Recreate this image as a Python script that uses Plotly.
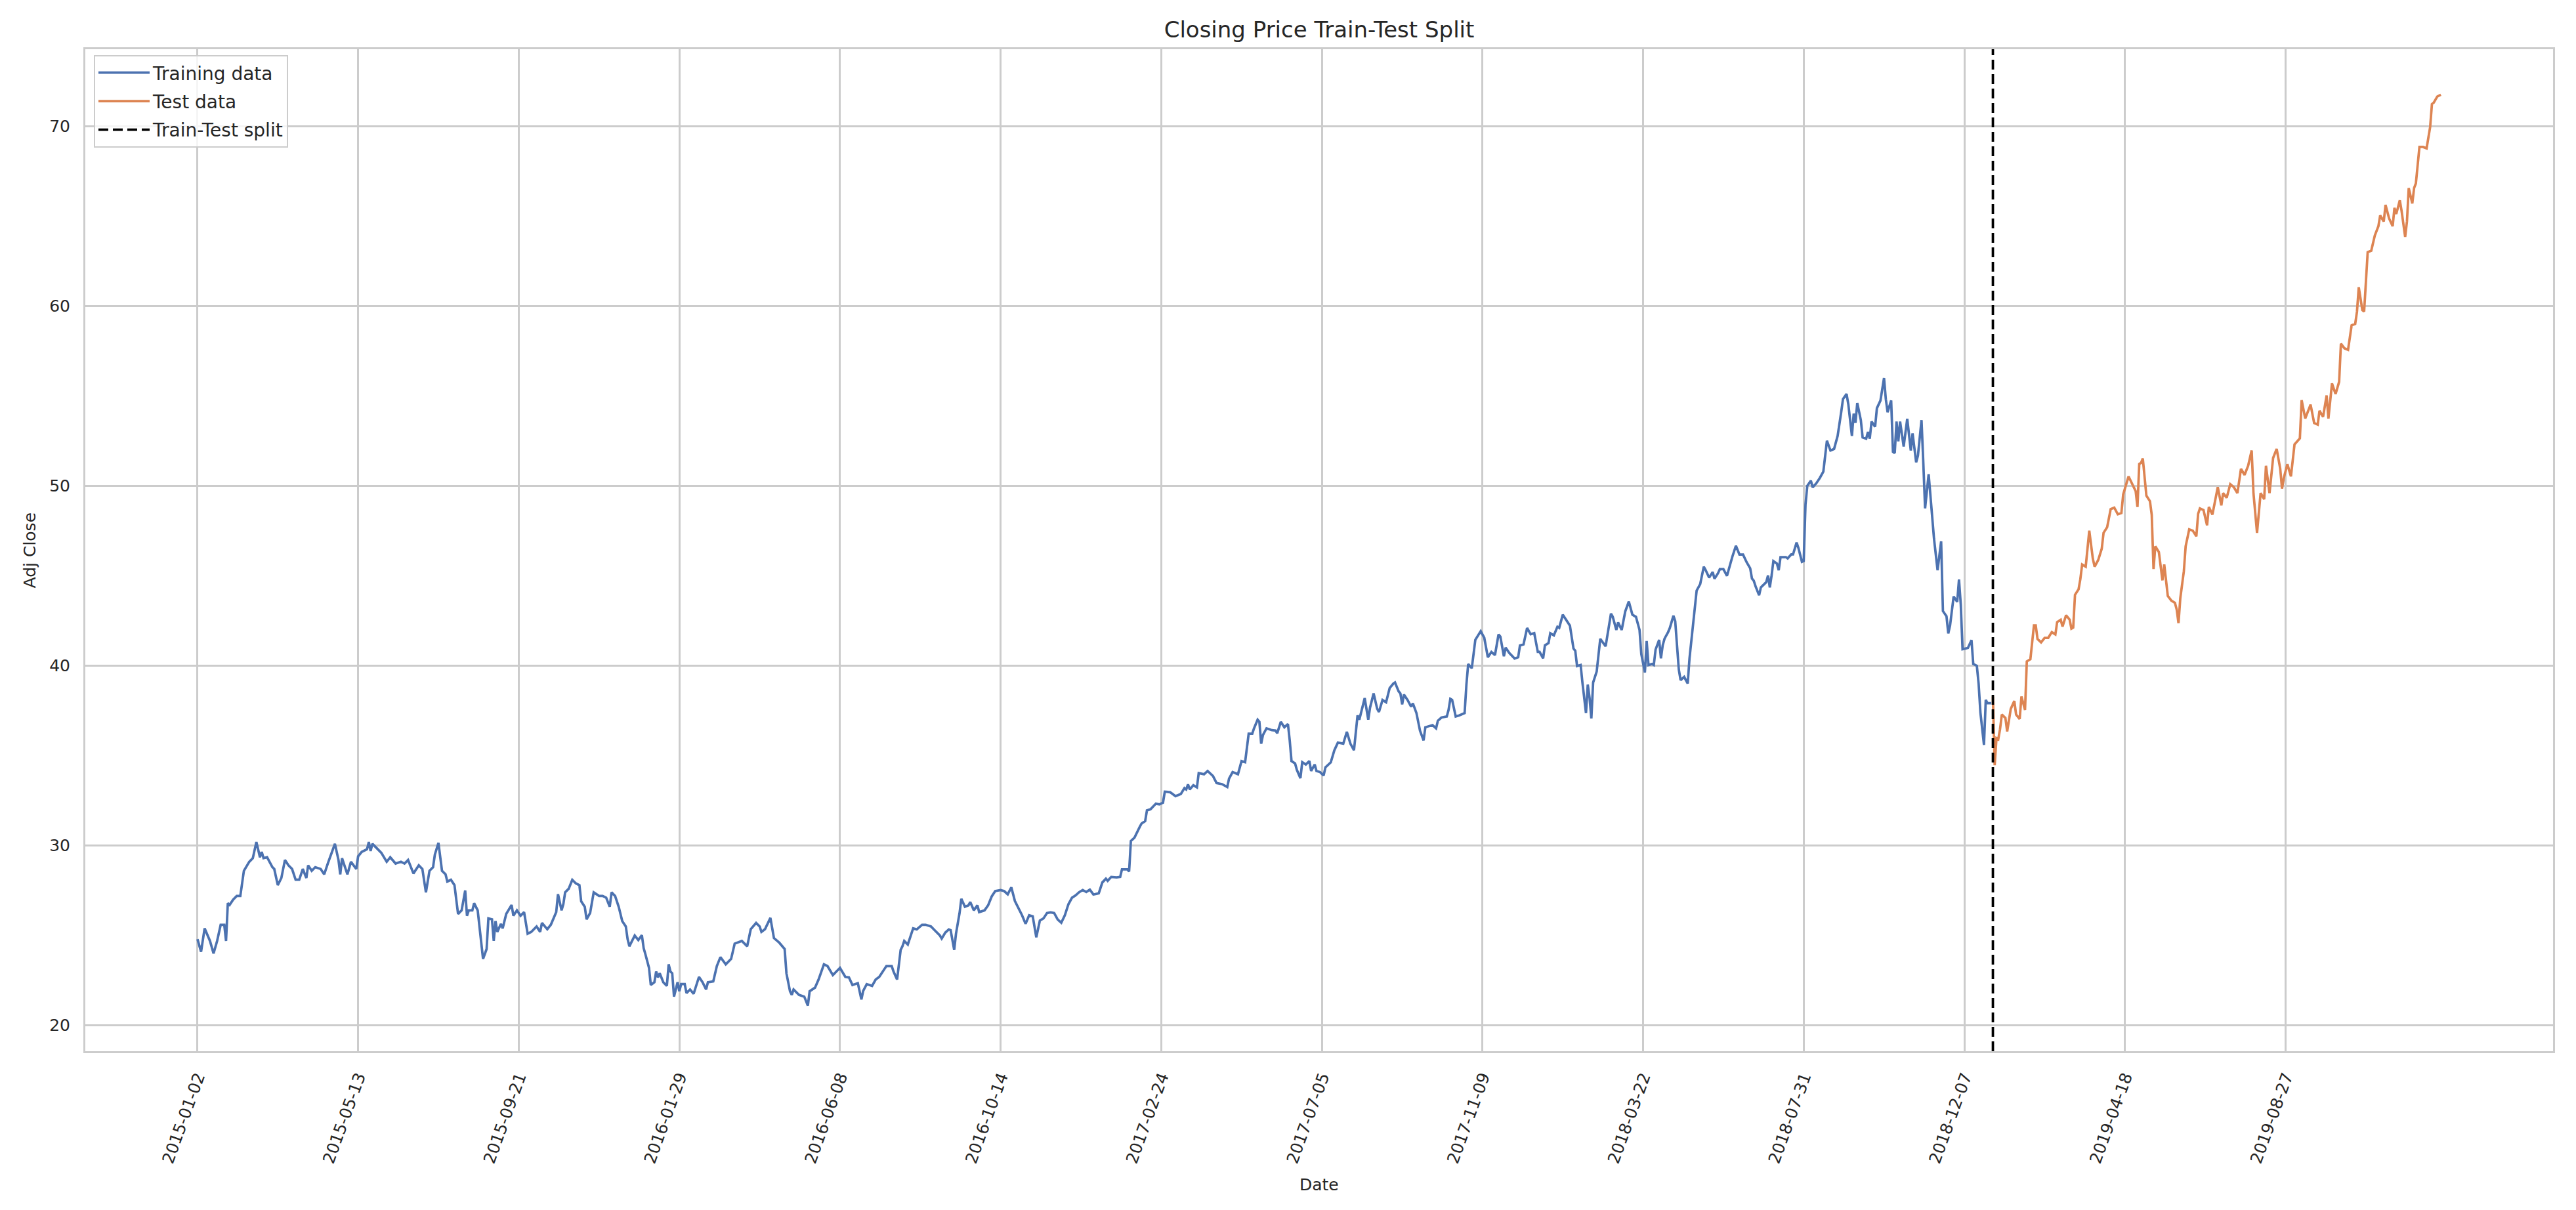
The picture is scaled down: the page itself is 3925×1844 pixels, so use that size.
import plotly.graph_objects as go

# ---- data (trading-day index, adjusted close) ----
train_day = [0, 2, 4, 6, 7, 9, 11, 13, 15, 16, 17, 18, 20, 22, 24, 26, 29, 31, 33, 35,
             36, 37, 39, 42, 43, 45, 47, 49, 51, 53, 55, 57, 59, 61, 62, 64, 66, 69, 71, 73,
             75, 77, 79, 80, 81, 84, 86, 89, 90, 92, 95, 96, 97, 98, 101, 103, 106, 108, 111, 114,
             116, 118, 121, 124, 126, 128, 130, 132, 133, 135, 137, 139, 140, 142, 144, 145, 146, 148, 150, 151,
             152, 154, 155, 157, 158, 160, 162, 163, 165, 166, 167, 168, 170, 171, 173, 176, 177, 179, 181, 183,
             185, 187, 190, 192, 193, 196, 198, 200, 201, 202, 204, 205, 206, 208, 210, 212, 214, 215, 217, 218,
             220, 222, 225, 227, 229, 231, 232, 234, 236, 238, 240, 241, 242, 245, 247, 249, 250, 251, 253, 254,
             256, 257, 258, 259, 261, 263, 264, 265, 266, 267, 269, 270, 271, 273, 274, 276, 278, 281, 283, 285,
             286, 289, 291, 293, 296, 299, 301, 305, 308, 310, 313, 315, 316, 318, 321, 323, 326, 329, 330, 332,
             333, 334, 337, 340, 342, 343, 346, 348, 351, 353, 356, 358, 360, 363, 365, 367, 370, 372, 373, 375,
             378, 380, 382, 384, 386, 389, 390, 392, 394, 395, 396, 398, 399, 401, 403, 406, 408, 411, 413, 416,
             417, 419, 421, 422, 424, 425, 427, 428, 430, 432, 433, 435, 437, 438, 441, 443, 445, 447, 450, 452,
             454, 456, 458, 460, 462, 464, 466, 468, 469, 470, 472, 474, 476, 478, 480, 482, 484, 486, 488, 490,
             492, 494, 496, 498, 500, 502, 505, 507, 509, 510, 512, 515, 517, 518, 521, 522, 523, 525, 528, 529,
             531, 532, 534, 537, 539, 541, 542, 545, 548, 551, 553, 554, 555, 556, 558, 560, 561, 564, 566, 569,
             571, 574, 577, 578, 580, 583, 585, 587, 589, 591, 592, 594, 595, 596, 597, 599, 602, 604, 605, 607,
             609, 611, 612, 613, 615, 616, 618, 619, 621, 623, 624, 626, 627, 629, 631, 632, 635, 637, 639, 642,
             644, 646, 648, 650, 651, 653, 654, 656, 657, 659, 661, 662, 664, 666, 668, 670, 671, 673, 674, 675,
             676, 678, 680, 681, 683, 685, 687, 688, 690, 692, 694, 695, 697, 700, 701, 702, 703, 705, 707, 710,
             711, 712, 714, 715, 716, 719, 721, 723, 725, 727, 729, 730, 732, 733, 735, 738, 740, 741, 743, 745,
             747, 749, 751, 752, 754, 755, 757, 758, 760, 762, 763, 765, 767, 769, 771, 772, 773, 775, 776, 778,
             779, 780, 781, 782, 784, 786, 789, 790, 792, 793, 795, 796, 798, 800, 802, 804, 806, 808, 809, 811,
             812, 813, 815, 816, 817, 819, 820, 821, 822, 824, 825, 827, 828, 830, 831, 833, 835, 836, 838, 840,
             842, 844, 845, 847, 849, 850, 852, 853, 855, 857, 860, 862, 864, 866, 868, 870, 871, 872, 873, 875,
             876, 879, 880, 881, 882, 883, 885, 886, 887, 890, 891, 893, 894, 896, 897, 899, 900, 901, 902, 904,
             905, 907, 909, 911, 913, 915, 917, 919, 921, 922, 924, 925, 926, 927, 928, 929, 930, 932, 933, 935,
             936, 937, 938, 940, 941, 943, 945, 946, 947, 949, 950, 951, 952, 953, 954, 956, 958, 960, 961, 963,
             964, 966, 967, 968, 970, 971, 973, 975, 976, 977, 978, 980, 981, 982, 984, 986, 987, 988, 989, 992,
             994, 995, 997, 998, 999, 1001, 1002, 1003, 1005]
train_close = [24.8, 24.1, 25.4, 24.9, 24.7, 24.0, 24.7, 25.6, 25.6, 24.7, 26.8, 26.7, 27.0, 27.2, 27.2, 28.6, 29.1, 29.3, 30.2, 29.35,
               29.65, 29.3, 29.35, 28.8, 28.7, 27.8, 28.2, 29.2, 28.9, 28.7, 28.1, 28.1, 28.7, 28.2, 28.9, 28.6, 28.8, 28.7, 28.4, 29.0,
               29.6, 30.1, 29.2, 28.4, 29.3, 28.4, 29.1, 28.7, 29.4, 29.65, 29.8, 30.2, 29.7, 30.1, 29.8, 29.6, 29.1, 29.35, 29.0, 29.1,
               29.0, 29.2, 28.45, 28.9, 28.7, 27.4, 28.6, 28.8, 29.5, 30.15, 28.6, 28.4, 28.0, 28.1, 27.8, 27.05, 26.2, 26.4, 27.5, 26.1,
               26.4, 26.4, 26.8, 26.4, 25.5, 23.7, 24.25, 25.95, 25.9, 24.7, 25.8, 25.2, 25.65, 25.4, 26.2, 26.7, 26.1, 26.4, 26.1, 26.3,
               25.1, 25.2, 25.5, 25.2, 25.7, 25.35, 25.6, 26.1, 26.3, 27.3, 26.4, 26.75, 27.4, 27.6, 28.1, 27.9, 27.8, 26.9, 26.6, 25.9,
               26.25, 27.4, 27.2, 27.2, 27.1, 26.6, 27.4, 27.2, 26.6, 25.8, 25.5, 24.8, 24.4, 25.0, 24.75, 25.02, 24.3, 23.95, 23.2, 22.25,
               22.4, 23.0, 22.67, 22.9, 22.4, 22.2, 23.4, 23.0, 22.9, 21.6, 22.4, 21.9, 22.3, 22.3, 21.8, 22.0, 21.76, 22.7, 22.4, 22.0,
               22.4, 22.45, 23.3, 23.8, 23.4, 23.7, 24.55, 24.7, 24.4, 25.35, 25.7, 25.5, 25.2, 25.35, 25.98, 24.86, 24.6, 24.25, 22.9, 21.9,
               21.7, 22.0, 21.7, 21.6, 21.1, 21.9, 22.1, 22.55, 23.4, 23.3, 22.8, 23.0, 23.2, 22.7, 22.67, 22.25, 22.35, 21.45, 21.92, 22.3,
               22.2, 22.55, 22.7, 23.0, 23.3, 23.3, 23.0, 22.55, 24.2, 24.4, 24.7, 24.5, 24.8, 25.4, 25.34, 25.6, 25.6, 25.5, 25.3, 25.0,
               24.83, 25.16, 25.34, 25.3, 24.2, 25.1, 26.25, 27.04, 26.6, 26.68, 26.86, 26.4, 26.68, 26.3, 26.4, 26.68, 27.17, 27.47, 27.53, 27.47,
               27.29, 27.68, 26.92, 26.56, 26.13, 25.65, 26.13, 26.07, 25.46, 24.9, 25.83, 25.95, 26.25, 26.29, 26.25, 25.89, 25.71, 26.13, 26.74, 27.1,
               27.23, 27.41, 27.53, 27.42, 27.55, 27.28, 27.35, 27.95, 28.16, 28.04, 28.26, 28.23, 28.26, 28.68, 28.68, 28.56, 30.26, 30.44, 31.05, 31.23,
               31.36, 31.96, 32.02, 32.33, 32.29, 32.39, 33.0, 32.97, 32.75, 32.87, 33.2, 33.12, 33.4, 33.12, 33.36, 33.24, 34.03, 33.97, 34.15, 33.87,
               33.48, 33.42, 33.26, 33.72, 34.09, 33.97, 34.7, 34.64, 36.22, 36.22, 36.52, 37.0, 36.88, 35.67, 36.15, 36.52, 36.42, 36.4, 36.25, 36.88,
               36.58, 36.76, 35.85, 34.7, 34.57, 34.21, 33.75, 34.64, 34.51, 34.7, 34.15, 34.51, 34.15, 34.09, 33.9, 34.35, 34.63, 35.3, 35.73, 35.67,
               36.33, 35.67, 35.3, 37.24, 37.0, 37.73, 38.2, 37.0, 37.67, 38.46, 37.61, 37.43, 38.1, 37.97, 38.76, 39.0, 39.07, 38.58, 38.46, 37.85,
               38.4, 38.1, 37.73, 37.91, 37.37, 36.39, 35.85, 36.58, 36.64, 36.7, 36.52, 36.94, 37.12, 37.18, 37.55, 38.16, 38.1, 37.18, 37.24, 37.37,
               38.95, 40.1, 39.86, 40.59, 41.44, 41.92, 41.56, 40.47, 40.77, 40.59, 41.74, 41.62, 40.53, 41.01, 40.71, 40.4, 40.47, 41.13, 41.19, 42.1,
               41.75, 41.81, 40.77, 40.77, 40.41, 41.14, 41.26, 41.81, 41.69, 42.17, 42.11, 42.84, 42.54, 42.23, 40.96, 40.83, 39.98, 40.04, 39.07, 37.37,
               38.95, 38.22, 37.07, 39.07, 39.68, 41.5, 41.08, 41.75, 42.9, 42.72, 41.99, 42.41, 41.99, 43.02, 43.57, 42.84, 42.72, 41.99, 40.65, 39.62,
               41.38, 40.04, 40.1, 40.04, 40.9, 41.44, 40.41, 41.14, 41.5, 41.87, 42.11, 42.78, 42.48, 39.8, 39.2, 39.38, 39.01, 40.41, 42.41, 44.18,
               44.54, 45.51, 45.33, 44.9, 45.21, 44.84, 45.15, 45.37, 45.37, 45.0, 46.06, 46.67, 46.18, 46.18, 45.76, 45.42, 44.85, 44.73, 44.42, 43.92,
               44.36, 44.65, 45.02, 44.36, 45.02, 45.82, 45.68, 45.31, 46.04, 46.04, 45.97, 46.19, 46.19, 46.85, 46.56, 45.78, 45.82, 48.97, 50.0, 50.29,
               49.92, 50.14, 50.44, 50.8, 52.51, 51.97, 52.05, 52.78, 54.1, 54.83, 55.12, 54.53, 53.66, 52.78, 54.02, 53.51, 54.61, 53.66, 52.7, 52.63,
               53.0, 52.63, 53.58, 53.29, 54.32, 54.75, 56.0, 54.83, 54.1, 54.75, 51.9, 51.83, 53.58, 52.48, 53.58, 52.19, 53.73, 51.97, 52.92, 51.31,
               51.68, 53.66, 51.31, 48.75, 50.65, 49.41, 47.07, 45.31, 46.26, 46.92, 43.04, 42.75, 41.8, 42.24, 43.85, 43.55, 44.8, 43.41, 40.92, 40.99,
               41.43, 40.1, 40.0, 39.0, 37.4, 35.6, 38.1, 37.92, 37.92]

test_day = [1006, 1007, 1008, 1009, 1010, 1011, 1013, 1014, 1016, 1018, 1019, 1021, 1022, 1024, 1025, 1027, 1029, 1030, 1031, 1033,
            1035, 1037, 1039, 1041, 1042, 1044, 1045, 1047, 1049, 1050, 1051, 1052, 1054, 1055, 1056, 1058, 1060, 1062, 1063, 1065,
            1067, 1068, 1070, 1072, 1074, 1076, 1078, 1079, 1082, 1084, 1086, 1087, 1088, 1089, 1090, 1092, 1094, 1095, 1096, 1097,
            1099, 1101, 1102, 1104, 1106, 1108, 1109, 1110, 1111, 1113, 1114, 1116, 1118, 1120, 1121, 1122, 1123, 1124, 1126, 1127,
            1129, 1132, 1134, 1135, 1137, 1139, 1141, 1143, 1145, 1147, 1149, 1151, 1152, 1154, 1156, 1158, 1159, 1161, 1163, 1165,
            1167, 1168, 1169, 1171, 1173, 1175, 1178, 1179, 1181, 1184, 1186, 1188, 1189, 1191, 1193, 1194, 1196, 1198, 1200, 1201,
            1203, 1205, 1207, 1209, 1210, 1211, 1213, 1214, 1216, 1218, 1220, 1222, 1223, 1225, 1226, 1228, 1230, 1231, 1232, 1234,
            1235, 1237, 1238, 1239, 1241, 1242, 1243, 1245, 1247, 1249, 1251, 1252, 1253, 1255, 1257]
test_close = [38.29, 34.47, 35.97, 35.91, 36.47, 37.29, 37.1, 36.35, 37.6, 38.04, 37.29, 37.04, 38.29, 37.54, 40.24, 40.36, 42.24, 42.24, 41.49, 41.3,
              41.55, 41.55, 41.87, 41.74, 42.43, 42.56, 42.18, 42.81, 42.56, 42.06, 42.12, 43.94, 44.25, 44.82, 45.63, 45.51, 47.51, 45.95, 45.51, 45.88,
              46.51, 47.39, 47.7, 48.71, 48.79, 48.42, 48.49, 49.52, 50.53, 50.09, 49.71, 48.83, 51.22, 51.28, 51.53, 49.46, 49.15, 48.39, 45.38, 46.64,
              46.32, 44.75, 45.63, 43.88, 43.62, 43.5, 43.12, 42.37, 43.75, 45.26, 46.64, 47.58, 47.51, 47.2, 48.45, 48.75, 48.71, 48.66, 47.81, 48.83,
              48.41, 49.93, 48.92, 49.6, 49.34, 50.1, 49.93, 49.6, 50.95, 50.61, 51.12, 51.97, 49.6, 47.39, 49.6, 49.26, 51.12, 49.6, 51.55, 52.06,
              50.95, 49.85, 50.44, 51.21, 50.53, 52.31, 52.65, 54.77, 53.75, 54.52, 53.5, 53.41, 54.18, 53.84, 55.03, 53.75, 55.7, 55.11, 55.79, 57.91,
              57.65, 57.57, 58.93, 59.01, 59.69, 61.05, 59.78, 59.69, 63.0, 63.08, 63.93, 64.44, 65.04, 64.7, 65.63, 64.87, 64.44, 65.46, 65.12, 65.88,
              65.29, 63.85, 64.7, 66.56, 65.71, 66.56, 66.82, 68.85, 68.85, 68.77, 69.96, 71.23, 71.31, 71.65, 71.75]

split_day = 1006
tick_step = 90
tick_labels = ["2015-01-02", "2015-05-13", "2015-09-21", "2016-01-29", "2016-06-08",
               "2016-10-14", "2017-02-24", "2017-07-05", "2017-11-09", "2018-03-22",
               "2018-07-31", "2018-12-07", "2019-04-18", "2019-08-27"]
y_ticks = [20, 30, 40, 50, 60, 70]

# ---- axis ranges (matplotlib-style 5% margins) ----
all_days = train_day + test_day
all_vals = train_close + test_close
x_lo, x_hi = min(all_days), max(all_days)
x_pad = 0.05 * (x_hi - x_lo)
y_lo, y_hi = min(all_vals), max(all_vals)
y_pad = 0.05 * (y_hi - y_lo)
x_range = [x_lo - x_pad, x_hi + x_pad]
y_range = [y_lo - y_pad, y_hi + y_pad]

FONT = "DejaVu Sans"
TXT = "#262626"
GRID = "#cccccc"

fig = go.Figure()
fig.add_trace(go.Scatter(x=train_day, y=train_close, mode="lines", name="Training data",
                         legendgroup="a", line=dict(color="#4C72B0", width=3.75)))
fig.add_trace(go.Scatter(x=test_day, y=test_close, mode="lines", name="Test data",
                         legendgroup="b", line=dict(color="#DD8452", width=3.75)))
fig.add_trace(go.Scatter(x=[split_day, split_day], y=y_range, mode="lines", name="Train-Test split",
                         legendgroup="c", line=dict(color="black", width=3.75, dash="15px,7px")))

W, H = 3925, 1844
ml, mr, mt, mb = 130, 35, 75, 242
plot_h = H - mt - mb
plot_w = W - ml - mr

fig.update_layout(
    width=W, height=H,
    margin=dict(l=ml, r=mr, t=mt, b=mb, pad=0),
    paper_bgcolor="white", plot_bgcolor="white",
    font=dict(family=FONT, color=TXT, size=25),
    title=dict(text="Closing Price Train-Test Split", x=0.5, xref="paper", xanchor="center",
               y=1 - 45 / H, yref="container", yanchor="middle",
               font=dict(family=FONT, size=34, color=TXT)),
    showlegend=True,
    legend=dict(x=(143 - ml) / plot_w, y=1 - (84 - mt) / plot_h, xanchor="left", yanchor="top",
                bgcolor="rgba(255,255,255,0.8)", bordercolor=GRID, borderwidth=2,
                font=dict(family=FONT, size=28, color=TXT), tracegroupgap=4,
                itemwidth=78),
    xaxis=dict(range=x_range, tickmode="array",
               tickvals=[k * tick_step for k in range(len(tick_labels))], ticktext=tick_labels,
               tickangle=-70, ticks="", ticklabelstandoff=12,
               showgrid=True, gridcolor=GRID, gridwidth=2.5, zeroline=False,
               showline=True, mirror=True, linecolor=GRID, linewidth=3,
               tickfont=dict(family=FONT, size=25, color=TXT)),
    yaxis=dict(range=y_range, tickmode="array", tickvals=y_ticks,
               ticks="", ticklabelstandoff=15,
               showgrid=True, gridcolor=GRID, gridwidth=2.5, zeroline=False,
               showline=True, mirror=True, linecolor=GRID, linewidth=3,
               tickfont=dict(family=FONT, size=25, color=TXT)),
    annotations=[
        dict(text="Date", xref="paper", yref="paper", x=0.5, y=-(1806 - (H - mb)) / plot_h,
             xanchor="center", yanchor="middle", showarrow=False,
             font=dict(family=FONT, size=25, color=TXT)),
        dict(text="Adj Close", xref="paper", yref="paper", x=-(ml - 45) / plot_w, y=0.5,
             xanchor="center", yanchor="middle", textangle=-90, showarrow=False,
             font=dict(family=FONT, size=25, color=TXT)),
    ],
)

fig.write_html("out.html", config={"displayModeBar": False},
               post_script="document.body.style.margin='0px';")
